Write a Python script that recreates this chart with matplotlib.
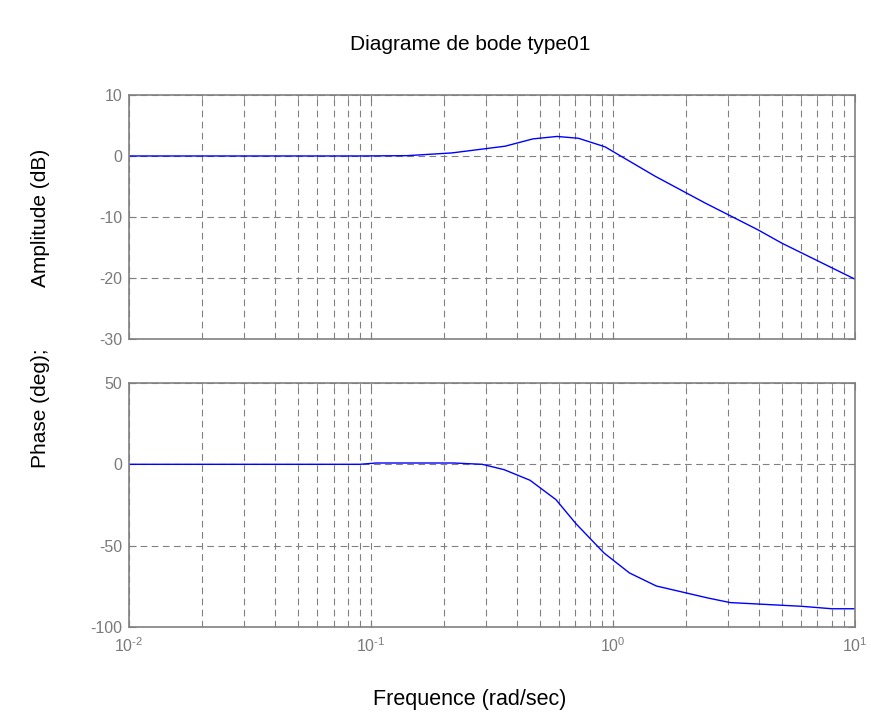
import numpy as np
import matplotlib
matplotlib.use("Agg")
import matplotlib.pyplot as plt
from matplotlib.ticker import LogLocator, NullFormatter, FuncFormatter

plt.rcParams['font.family'] = ['Liberation Sans', 'DejaVu Sans']
plt.rcParams['mathtext.fontset'] = 'custom'
plt.rcParams['mathtext.rm'] = 'Liberation Sans'
plt.rcParams['mathtext.default'] = 'regular'
plt.rcParams['axes.unicode_minus'] = False

# magnitude curve (rad/sec, dB)
w_mag = [0.01, 0.09, 0.141, 0.216, 0.358, 0.467, 0.587, 0.72, 0.927,
         1.49, 2.4, 3.97, 4.99, 10.0]
mag_db = [0.0, 0.0, 0.05, 0.5, 1.6, 2.8, 3.2, 2.9, 1.5,
          -3.3, -7.7, -12.1, -14.3, -20.2]

# phase curve (rad/sec, deg)
w_ph = [0.01, 0.09, 0.105, 0.22, 0.288, 0.355, 0.454, 0.581, 0.703,
        0.918, 1.17, 1.51, 2.47, 3.05, 6.04, 8.03, 10.0]
phase_deg = [0.0, 0.0, 0.8, 0.8, 0.0, -3.3, -9.8, -21.7, -36.5,
             -54.5, -66.8, -74.8, -82.2, -85.0, -87.3, -88.8, -88.8]

mag_ticks = [-30, -20, -10, 0, 10]
phase_ticks = [-100, -50, 0, 50]

grey = '#808080'
label_grey = '#7a7a7a'


def decade_label(x, pos):
    e = int(round(np.log10(x)))
    return r'$10^{\text{%d}}$' % e


fig = plt.figure(figsize=(8.71, 7.2), dpi=100)
ax1 = fig.add_axes([0.1481, 0.5292, 0.8335, 0.3389])
ax2 = fig.add_axes([0.1481, 0.1292, 0.8335, 0.3389])


def style(ax, yticks):
    ax.set_xscale('log')
    ax.set_xlim(0.01, 10)
    ax.set_ylim(yticks[0], yticks[-1])
    ax.set_yticks(yticks)
    ax.xaxis.set_major_locator(LogLocator(base=10, numticks=10))
    ax.xaxis.set_major_formatter(FuncFormatter(decade_label))
    ax.xaxis.set_minor_locator(LogLocator(base=10, subs=np.arange(2, 10), numticks=10))
    ax.xaxis.set_minor_formatter(NullFormatter())
    ax.grid(True, which='major', color=grey, linestyle=(0, (6, 4)), linewidth=0.8)
    ax.grid(True, which='minor', axis='x', color=grey, linestyle=(0, (6, 4)), linewidth=0.8)
    ax.tick_params(which='both', direction='in', colors=grey, labelcolor=label_grey,
                   labelsize=11.5, top=True, right=True)
    ax.tick_params(which='major', length=5, pad=5)
    ax.tick_params(which='minor', length=3)
    for s in ax.spines.values():
        s.set_color(grey)
        s.set_linewidth(1.2)


ax1.plot(w_mag, mag_db, color='#0000ff', linewidth=1)
style(ax1, mag_ticks)
ax1.tick_params(axis='x', labelbottom=False)

ax2.plot(w_ph, phase_deg, color='#0000ff', linewidth=1)
style(ax2, phase_ticks)
ax2.tick_params(axis='x', pad=7)

fig.text(470 / 871, 1 - 45 / 720, 'Diagrame de bode type01', ha='center', va='center', fontsize=15)
fig.text(470 / 871, 1 - 700 / 720, 'Frequence (rad/sec)', ha='center', va='center', fontsize=15.5)
fig.text(0.046, 1 - 218 / 720, 'Amplitude (dB)', rotation=90, ha='center', va='center', fontsize=15)
fig.text(0.046, 1 - 408 / 720, 'Phase (deg);', rotation=90, ha='center', va='center', fontsize=15)

fig.savefig('out.png', dpi=100)
